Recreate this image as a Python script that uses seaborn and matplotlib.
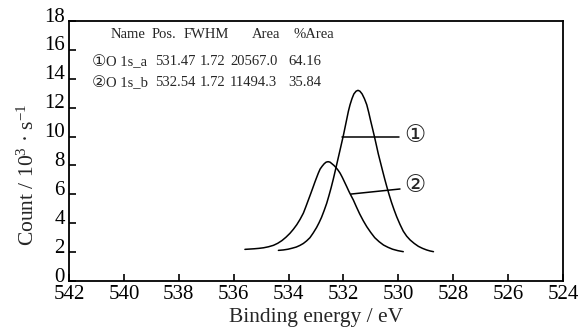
import matplotlib
matplotlib.use("Agg")
import matplotlib.pyplot as plt
import matplotlib.transforms as mtransforms
import seaborn as sns
import pandas as pd

# ---- data ----
peak1_energy = [534.37, 534.19, 534.02, 533.87, 533.72, 533.59, 533.46, 533.34, 533.22, 533.10,
                532.98, 532.89, 532.80, 532.705, 532.61, 532.53, 532.45, 532.37, 532.29, 532.205,
                532.12, 532.06, 532.00, 531.94, 531.88, 531.82, 531.76, 531.69, 531.62, 531.54,
                531.47,
                531.40, 531.32, 531.235, 531.15, 531.08, 531.01, 530.94, 530.87, 530.80, 530.73,
                530.65, 530.57, 530.495, 530.42, 530.335, 530.25, 530.155, 530.06, 529.94, 529.82,
                529.695, 529.57, 529.42, 529.27, 529.12, 528.97, 528.845, 528.72]
peak1_count = [2.12, 2.15, 2.20, 2.27, 2.35, 2.46, 2.60, 2.78, 3.00, 3.33,
               3.70, 4.03, 4.40, 4.87, 5.38, 5.90, 6.45, 7.05, 7.70, 8.40,
               9.10, 9.60, 10.10, 10.65, 11.20, 11.75, 12.20, 12.62, 12.95, 13.14,
               13.20,
               13.14, 12.95, 12.62, 12.20, 11.68, 11.10, 10.55, 9.99, 9.40, 8.80,
               8.20, 7.60, 7.05, 6.53, 5.97, 5.45, 4.93, 4.45, 3.92, 3.45,
               3.10, 2.84, 2.60, 2.40, 2.26, 2.15, 2.08, 2.03]

peak2_energy = [535.59, 535.425, 535.26, 535.08, 534.91, 534.73, 534.55, 534.395, 534.24, 534.095,
                533.95, 533.825, 533.70, 533.58, 533.46, 533.37, 533.28, 533.19, 533.10, 533.04,
                532.98, 532.915, 532.85, 532.775, 532.70, 532.63, 532.56,
                532.49, 532.42, 532.345, 532.27, 532.195, 532.12, 532.04, 531.96, 531.88, 531.80,
                531.72, 531.64, 531.525, 531.41, 531.28, 531.15, 531.005, 530.86, 530.70, 530.54,
                530.375, 530.21, 530.015, 529.82]
peak2_count = [2.19, 2.21, 2.23, 2.26, 2.30, 2.37, 2.47, 2.61, 2.80, 3.03,
               3.30, 3.58, 3.90, 4.27, 4.70, 5.14, 5.60, 6.06, 6.53, 6.85,
               7.15, 7.47, 7.75, 7.95, 8.12, 8.23, 8.26,
               8.23, 8.12, 8.00, 7.85, 7.67, 7.46, 7.17, 6.85, 6.53, 6.20,
               5.90, 5.61, 5.12, 4.65, 4.18, 3.76, 3.36, 3.00, 2.72, 2.49,
               2.33, 2.20, 2.10, 2.03]

table_header = ["Name", "Pos.", "FWHM", "Area", "%Area"]
peak_marks = ["\u2460", "\u2461"]
peak_names = ["O 1s_a", "O 1s_b"]
peak_pos = [531.47, 532.54]
peak_fwhm = [1.72, 1.72]
peak_area = [20567.0, 11494.3]
peak_pct = [64.16, 35.84]

x_ticks = [542, 540, 538, 536, 534, 532, 530, 528, 526, 524]
y_ticks = [0, 2, 4, 6, 8, 10, 12, 14, 16, 18]

df = pd.concat([
    pd.DataFrame({"energy": peak1_energy, "count": peak1_count, "peak": "1"}),
    pd.DataFrame({"energy": peak2_energy, "count": peak2_count, "peak": "2"}),
])

# ---- style ----
sns.set_style("ticks")
plt.rcParams["font.family"] = ["Liberation Serif", "DejaVu Sans", "Noto Sans CJK SC"]
plt.rcParams["mathtext.fontset"] = "custom"
plt.rcParams["mathtext.rm"] = "Liberation Serif"
plt.rcParams["mathtext.it"] = "Liberation Serif:italic"

fig = plt.figure(figsize=(5.87, 3.31), dpi=100)
ax = fig.add_axes([69 / 587, 50 / 331, 494 / 587, 260 / 331])

sns.lineplot(data=df, x="energy", y="count", hue="peak", units="peak",
             estimator=None, sort=False, palette=["black", "black"],
             legend=False, linewidth=1.1, ax=ax)
for ln in ax.lines:
    ln.set_solid_joinstyle("round")
    ln.set_solid_capstyle("round")

ax.set_xlim(542, 524)
ax.set_ylim(0, 18)
ax.set_xticks(x_ticks)
ax.set_yticks(y_ticks)
ax.tick_params(axis="both", direction="in", length=5, width=1.2,
               labelsize=15, colors="black", pad=3)
for s in ax.spines.values():
    s.set_visible(True)
    s.set_linewidth(1.3)
    s.set_color("black")

# y tick labels sit slightly above their ticks in the reference
offset = mtransforms.ScaledTranslation(0, 6.5 / 100, fig.dpi_scale_trans)
for lab in ax.get_yticklabels():
    lab.set_transform(lab.get_transform() + offset)

ax.set_xlabel("Binding energy / eV", fontsize=15.5, labelpad=3)
ax.set_ylabel("Count / 10$^{3}$ · s$^{-1}$", fontsize=15.5)
ax.yaxis.set_label_coords(-0.062, 0.41)

# ---- annotation table ----
tfs = 10.5
def ax_pt(px, py):
    return ((px - 69) / 494, (281 - py) / 260)

header_x = [110.7, 151.7, 184, 252, 293]
for txt, px in zip(table_header, header_x):
    ax.text(*ax_pt(px, 35), txt, transform=ax.transAxes, fontsize=tfs,
            ha="left", va="center")

row_y = [61.7, 83]
for i in range(2):
    py = row_y[i]
    ax.text(*ax_pt(92, py), peak_marks[i], transform=ax.transAxes, fontsize=11.5,
            ha="left", va="center")
    ax.text(*ax_pt(106, py), peak_names[i], transform=ax.transAxes, fontsize=tfs,
            ha="left", va="center")
    ax.text(*ax_pt(155, py), f"{peak_pos[i]:.2f}", transform=ax.transAxes,
            fontsize=tfs, ha="left", va="center")
    ax.text(*ax_pt(200, py), f"{peak_fwhm[i]:.2f}", transform=ax.transAxes,
            fontsize=tfs, ha="left", va="center")
    ax.text(*ax_pt(230, py), f"{peak_area[i]:.1f}", transform=ax.transAxes,
            fontsize=tfs, ha="left", va="center")
    ax.text(*ax_pt(288, py), f"{peak_pct[i]:.2f}", transform=ax.transAxes,
            fontsize=tfs, ha="left", va="center")

# ---- leader lines and circled labels ----
ax.plot([532.04, 529.97], [9.95, 9.95], color="black", linewidth=1.1)
ax.plot([531.72, 529.94], [6.02, 6.37], color="black", linewidth=1.1)
ax.text(529.39, 9.97, peak_marks[0], fontsize=17, ha="center", va="center")
ax.text(529.39, 6.53, peak_marks[1], fontsize=17, ha="center", va="center")

fig.savefig("out.png", dpi=100)
